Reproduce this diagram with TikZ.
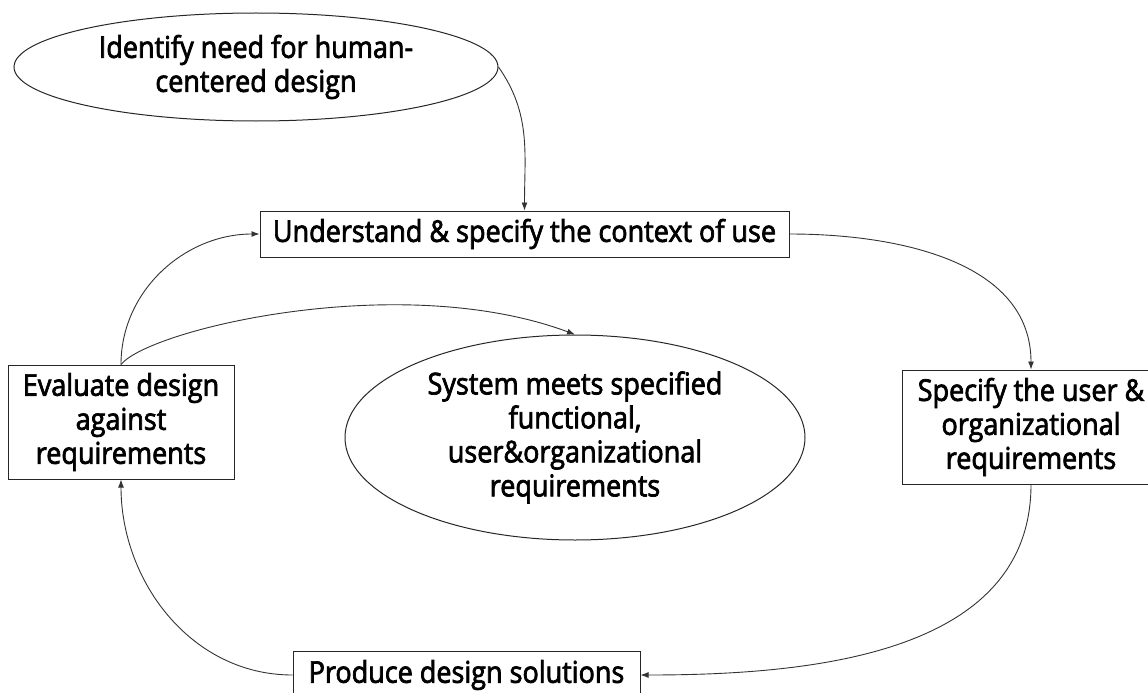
\documentclass[tikz,border=0pt]{standalone}
\usepackage{fontspec}
\setmainfont[FakeStretch=0.9, FakeBold=2.4]{Open Sans}
\usetikzlibrary{shapes.geometric,arrows.meta}

\begin{document}
\begin{tikzpicture}[x=1pt,y=-1pt,
  every node/.style={font=\fontsize{30}{34}\selectfont, align=center, inner sep=0pt},
  box/.style={draw=black!85, line width=1pt, rectangle},
  oval/.style={draw=black!85, line width=1pt, ellipse},
  flow/.style={draw=black!80, line width=0.9pt, -{Latex[length=8pt,width=6pt]}}]

  \useasboundingbox (0,0) rectangle (1148,693);
  \clip (0,0) rectangle (1148,693);

  % process steps
  \node[oval, minimum width=484pt, minimum height=108pt] (need) at (256,67)
    {Identify need for human-\\centered design};
  \node[box, minimum width=529pt, minimum height=46pt] (ctx) at (524.5,234)
    {Understand \& specify the context of use};
  \node[box, minimum width=258pt, minimum height=114pt] (spec) at (1031,427)
    {Specify the user \&\\organizational\\requirements};
  \node[box, minimum width=347pt, minimum height=47pt] (prod) at (466.5,675)
    {Produce design solutions};
  \node[box, minimum width=226pt, minimum height=114pt] (eval) at (121,422)
    {Evaluate design\\against\\requirements};
  \node[oval, minimum width=460pt, minimum height=205pt] (goal) at (575,437.5)
    {System meets specified\\functional,\\user\&organizational\\requirements};

  % connectors
  \draw[flow] (need.east) to[out=-55,in=90] (ctx.north);
  \draw[flow] (ctx.east) to[out=0,in=90] (spec.north);
  \draw[flow] (spec.south) to[out=-90,in=0] (prod.east);
  \draw[flow] (prod.west) to[out=180,in=-90] (eval.south);
  \draw[flow] (eval.north) to[out=90,in=180] (ctx.west);
  \draw[flow] (eval.north) .. controls +(28,-35) and +(-175,-65) .. (goal.north);
\end{tikzpicture}
\end{document}
